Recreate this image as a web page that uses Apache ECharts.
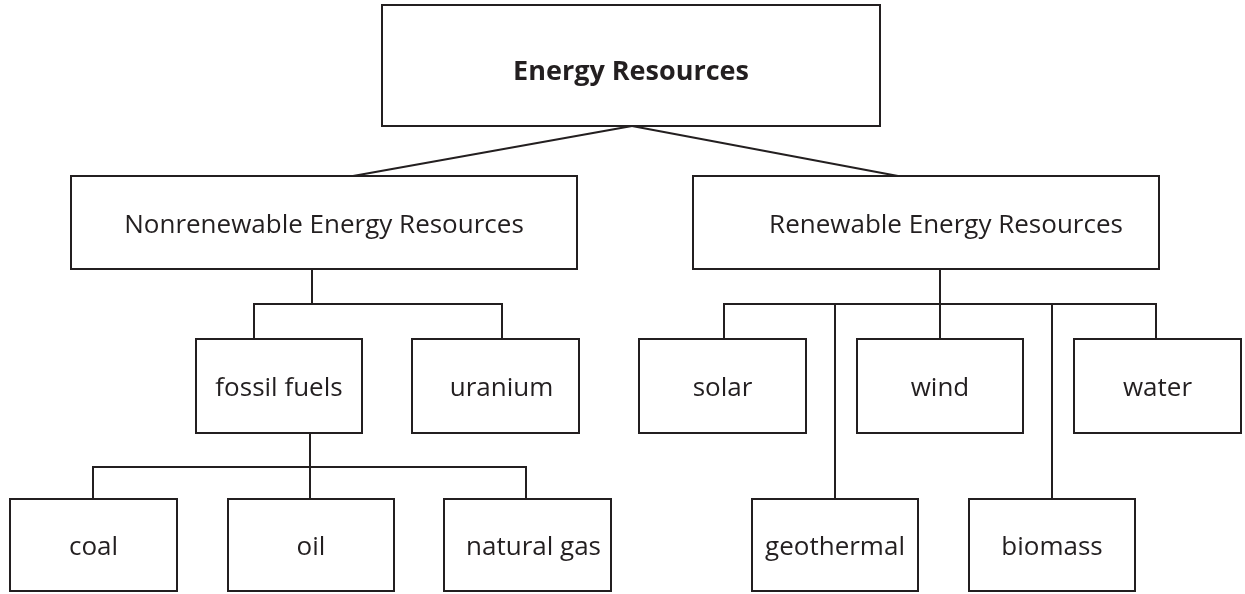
<!DOCTYPE html>
<html>
<head>
    <meta charset="UTF-8"/>
    <title>Energy Resources</title>
    <script type="text/javascript" src="https://cdn.jsdelivr.net/npm/echarts@6/dist/echarts.min.js"></script>
    <style>
        html, body { margin: 0; padding: 0; background: #fff; }
        #main { width: 1245px; height: 594px; }
    </style>
</head>
<body>
<div id="main"></div>
<script>
    // tree: each node and its parent
    var nodeNames = ['Energy Resources',
        'Nonrenewable Energy Resources', 'Renewable Energy Resources',
        'fossil fuels', 'uranium',
        'solar', 'geothermal', 'wind', 'biomass', 'water',
        'coal', 'oil', 'natural gas'];
    var nodeParents = ['',
        'Energy Resources', 'Energy Resources',
        'Nonrenewable Energy Resources', 'Nonrenewable Energy Resources',
        'Renewable Energy Resources', 'Renewable Energy Resources', 'Renewable Energy Resources',
        'Renewable Energy Resources', 'Renewable Energy Resources',
        'fossil fuels', 'fossil fuels', 'fossil fuels'];

    // layout (page units, y downwards): [left, top, right, bottom]
    var boxLayout = {
        'Energy Resources': [382, 5, 880, 126],
        'Nonrenewable Energy Resources': [71, 176, 577, 269],
        'Renewable Energy Resources': [693, 176, 1159, 269],
        'fossil fuels': [196, 339, 362, 433],
        'uranium': [412, 339, 579, 433],
        'solar': [639, 339, 806, 433],
        'wind': [857, 339, 1023, 433],
        'water': [1074, 339, 1241, 433],
        'geothermal': [752, 499, 918, 591],
        'biomass': [969, 499, 1135, 591],
        'coal': [10, 499, 177, 591],
        'oil': [228, 499, 394, 591],
        'natural gas': [444, 499, 611, 591]
    };
    // labels that sit a little off the box centre
    var labelShift = { 'Energy Resources': [0, 4], 'Renewable Energy Resources': [20, 0], 'uranium': [6, 0], 'natural gas': [6, 0] };
    // where the connector leaves a parent, and where it meets each child
    var stemLayout = {
        'Energy Resources': { x: 632, fan: true },
        'Nonrenewable Energy Resources': { x: 312, bus: 304 },
        'Renewable Energy Resources': { x: 940, bus: 304 },
        'fossil fuels': { x: 310, bus: 467 }
    };
    var dropX = {
        'Nonrenewable Energy Resources': 353, 'Renewable Energy Resources': 898,
        'fossil fuels': 254, 'uranium': 502,
        'solar': 724, 'geothermal': 835, 'wind': 940, 'biomass': 1052, 'water': 1156,
        'coal': 93, 'oil': 310, 'natural gas': 526
    };

    var ink = '#231f20';
    var chart = echarts.init(document.getElementById('main'));

    var linkData = [];
    for (var i = 0; i < nodeNames.length; i++) {
        if (nodeParents[i]) linkData.push([i]);
    }

    var option = {
        backgroundColor: '#fff',
        animation: false,
        grid: { left: 0, right: 0, top: 0, bottom: 0 },
        xAxis: { type: 'value', min: 0, max: 1245, show: false },
        yAxis: { type: 'value', min: 0, max: 594, inverse: true, show: false },
        series: [{
            type: 'custom',
            name: 'links',
            z: 1,
            data: linkData,
            renderItem: function (params, api) {
                var name = nodeNames[api.value(0)];
                var parent = nodeParents[api.value(0)];
                var pb = boxLayout[parent], cb = boxLayout[name];
                var stem = stemLayout[parent];
                var pts;
                if (stem.fan) {
                    pts = [[stem.x, pb[3]], [dropX[name], cb[1]]];
                } else {
                    pts = [[stem.x, pb[3]], [stem.x, stem.bus], [dropX[name], stem.bus], [dropX[name], cb[1]]];
                }
                return {
                    type: 'polyline',
                    shape: { points: pts.map(function (p) { return api.coord(p); }) },
                    style: { stroke: ink, lineWidth: 2, fill: null, lineJoin: 'miter' }
                };
            }
        }, {
            type: 'custom',
            name: 'boxes',
            z: 2,
            data: nodeNames.map(function (n, i) { return [i]; }),
            renderItem: function (params, api) {
                var idx = api.value(0);
                var name = nodeNames[idx];
                var b = boxLayout[name];
                var sh = labelShift[name] || [0, 0];
                var p0 = api.coord([b[0], b[1]]);
                var p1 = api.coord([b[2], b[3]]);
                return {
                    type: 'group',
                    children: [{
                        type: 'rect',
                        shape: { x: p0[0], y: p0[1], width: p1[0] - p0[0], height: p1[1] - p0[1] },
                        style: { fill: '#fff', stroke: ink, lineWidth: 2 }
                    }, {
                        type: 'text',
                        style: {
                            x: (p0[0] + p1[0]) / 2 + sh[0],
                            y: (p0[1] + p1[1]) / 2 + 3 + sh[1],
                            text: name,
                            align: 'center',
                            verticalAlign: 'middle',
                            fill: ink,
                            fontFamily: 'Open Sans',
                            fontSize: idx === 0 ? 27 : 26,
                            fontWeight: idx === 0 ? 'bold' : 'normal'
                        }
                    }]
                };
            }
        }]
    };
    chart.setOption(option);
</script>
</body>
</html>
